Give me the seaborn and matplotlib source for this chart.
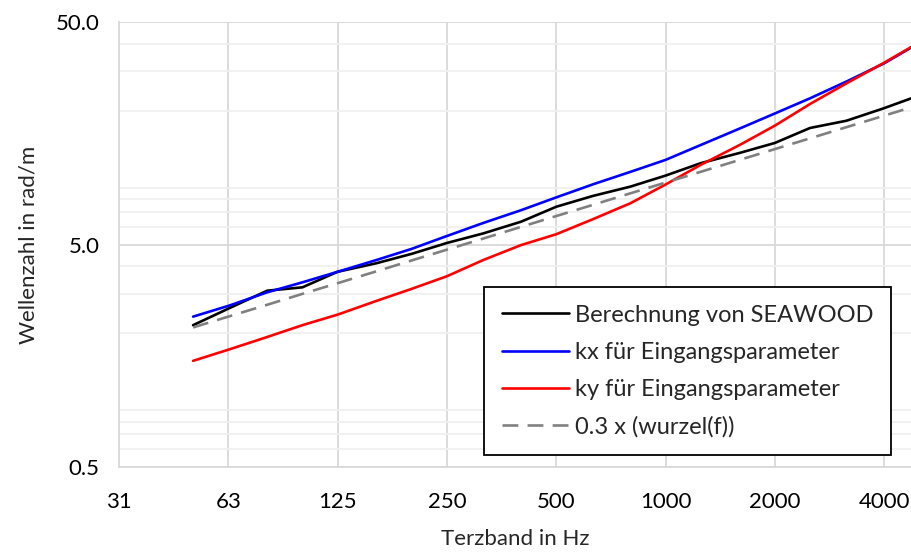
import seaborn as sns
import matplotlib.pyplot as plt
import matplotlib.ticker as mticker
import pandas as pd

# Terzband-Mittenfrequenzen in Hz
freq = [50, 63, 80, 100, 125, 160, 200, 250, 315, 400, 500, 630, 800,
        1000, 1250, 1600, 2000, 2500, 3150, 4000, 5000]

# Wellenzahlen in rad/m
seawood = [2.17, 2.59, 3.10, 3.21, 3.77, 4.12, 4.54, 5.08, 5.61, 6.33, 7.39,
           8.26, 9.10, 10.2, 11.6, 12.9, 14.3, 16.7, 18.0, 20.5, 23.4]
kx = [2.37, 2.66, 3.05, 3.38, 3.77, 4.26, 4.78, 5.46, 6.25, 7.13, 8.14,
      9.31, 10.6, 12.0, 14.0, 16.6, 19.4, 22.7, 27.0, 32.6, 40.3]
ky = [1.50, 1.69, 1.92, 2.17, 2.42, 2.79, 3.16, 3.60, 4.26, 4.97, 5.56,
      6.49, 7.66, 9.3, 11.4, 14.0, 17.1, 21.4, 26.5, 32.8, 40.5]
wurzel = [2.12, 2.38, 2.68, 3.00, 3.35, 3.79, 4.24, 4.74, 5.32, 6.00, 6.71,
          7.53, 8.49, 9.49, 10.61, 12.0, 13.42, 15.0, 16.84, 18.97, 21.21]

x_ticks = [31.25, 62.5, 125, 250, 500, 1000, 2000, 4000]
x_labels = ["31", "63", "125", "250", "500", "1000", "2000", "4000"]
y_ticks = [0.5, 5.0, 50.0]
y_labels = ["0.5", "5.0", "50.0"]

names = ["Berechnung von SEAWOOD", "kx für Eingangsparameter",
         "ky für Eingangsparameter", "0.3 x (wurzel(f))"]
df = pd.DataFrame({"f": freq * 4,
                   "k": seawood + kx + ky + wurzel,
                   "Reihe": [n for n in names for _ in freq]})

sns.set_style("white")
plt.rcParams['font.family'] = ['Lato', 'DejaVu Sans']

fig = plt.figure(figsize=(9.11, 5.53), dpi=100)
ax = fig.add_axes([0.1306, 0.1555, 0.8694, 0.8047])

farben = {names[0]: "black", names[1]: "#0000ff", names[2]: "#ff0000", names[3]: "#808080"}
sns.lineplot(data=df, x="f", y="k", hue="Reihe", style="Reihe", palette=farben,
             dashes={names[0]: "", names[1]: "", names[2]: "", names[3]: (6, 3.5)},
             linewidth=1.9, ax=ax, legend=True)

ax.set_xscale("log", base=2)
ax.set_yscale("log")
ax.set_xlim(31.25, 4743)
ax.set_ylim(0.5, 50)

ax.xaxis.set_major_locator(mticker.FixedLocator(x_ticks))
ax.xaxis.set_major_formatter(mticker.FixedFormatter(x_labels))
ax.xaxis.set_minor_locator(mticker.NullLocator())
ax.yaxis.set_major_locator(mticker.FixedLocator(y_ticks))
ax.yaxis.set_major_formatter(mticker.FixedFormatter(y_labels))
ax.yaxis.set_minor_locator(mticker.LogLocator(base=10, subs=range(2, 10)))
ax.yaxis.set_minor_formatter(mticker.NullFormatter())

ax.grid(True, which="major", color="#d9d9d9", linewidth=1.3)
ax.grid(True, which="minor", axis="y", color="#f0f0f0", linewidth=1.3)
ax.set_axisbelow(True)

for s in ["top", "right"]:
    ax.spines[s].set_visible(False)
for s in ["left", "bottom"]:
    ax.spines[s].set_color("#d9d9d9")
    ax.spines[s].set_linewidth(1.3)

ax.tick_params(axis="both", which="major", direction="out", length=6, width=1.3,
               color="#d9d9d9", labelsize=16, labelcolor="black", pad=8)
ax.tick_params(axis="x", pad=12)
ax.tick_params(axis="y", which="minor", length=0)

ax.set_xlabel("Terzband in Hz", fontsize=16, labelpad=12)
ax.set_ylabel("Wellenzahl in rad/m", fontsize=16, labelpad=12)

leg = ax.legend(loc="upper left", bbox_to_anchor=(0.461, 0.4045), borderaxespad=0,
                frameon=True, fancybox=False, fontsize=17, handlelength=2.85,
                labelspacing=0.68, borderpad=0.75, handletextpad=0.25)
leg.get_frame().set_edgecolor("black")
leg.get_frame().set_linewidth(1.3)
leg.get_frame().set_alpha(1)

fig.savefig("out.png", dpi=100)
